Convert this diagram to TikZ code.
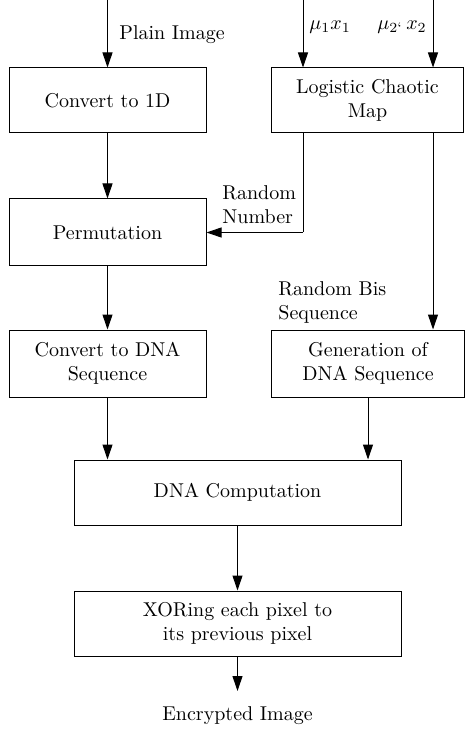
\documentclass[tikz,border=0pt]{standalone}
\usetikzlibrary{arrows.meta}
\begin{document}
\begin{tikzpicture}[x=0.5pt,y=-0.5pt,
  box/.style={draw,line width=0.5pt,inner sep=0pt,align=center},
  lbl/.style={inner sep=0pt,align=left},
  arr/.style={line width=0.5pt,-{Triangle[length=7.5pt,width=5pt]}},
  ln/.style={line width=0.5pt}]
\useasboundingbox (0,0) rectangle (465,732);
% boxes
\node[box,minimum width=98.5pt,minimum height=32.5pt] (c1d) at (107.5,100.5) {Convert to 1D};
\node[box,minimum width=96pt,minimum height=32.5pt] (lcm) at (367.5,100.5) {Logistic Chaotic\\Map};
\node[box,minimum width=98.5pt,minimum height=33.5pt] (perm) at (107.5,232.5) {Permutation};
\node[box,minimum width=98.5pt,minimum height=33.5pt] (cdna) at (107.5,363.5) {Convert to DNA\\Sequence};
\node[box,minimum width=96.5pt,minimum height=33.5pt] (gdna) at (368,363.5) {Generation of\\DNA Sequence};
\node[box,minimum width=163.5pt,minimum height=32.5pt] (comp) at (237.5,492.5) {DNA Computation};
\node[box,minimum width=163.5pt,minimum height=32.5pt] (xor) at (237.5,623.5) {XORing each pixel to\\its previous pixel};
% free ends
\coordinate (pin) at (107.5,0);
\coordinate (m1) at (303,0);
\coordinate (m2) at (433,0);
\coordinate (rn) at (303,232.5);
\coordinate (eout) at (237.5,691);
% labels
\node[lbl,anchor=west] (lpi) at (119,35) {Plain Image};
\node[lbl,anchor=west] (lm1) at (309,27) {$\mu_1x_1$};
\node[lbl,anchor=west] (lm2) at (377,27) {$\mu_{2`}\,x_2$};
\node[lbl,anchor=west] (lrn) at (222,205) {Random\\Number};
\node[lbl,anchor=west] (lrb) at (278,302) {Random Bis\\Sequence};
\node[inner sep=0pt] (lenc) at (237.5,716) {Encrypted Image};
% connectors
\draw[arr] (pin) -- (c1d.north);
\draw[arr] (m1) -- (m1 |- lcm.north);
\draw[arr] (m2) -- (m2 |- lcm.north);
\draw[arr] (c1d.south) -- (perm.north);
\draw[ln] (m1 |- lcm.south) -- (rn);
\draw[arr] (rn) -- (perm.east);
\draw[arr] (m2 |- lcm.south) -- (m2 |- gdna.north);
\draw[arr] (perm.south) -- (cdna.north);
\draw[arr] (cdna.south) -- (cdna.south |- comp.north);
\draw[arr] (gdna.south) -- (gdna.south |- comp.north);
\draw[arr] (comp.south) -- (xor.north);
\draw[arr] (xor.south) -- (eout);
\end{tikzpicture}
\end{document}
